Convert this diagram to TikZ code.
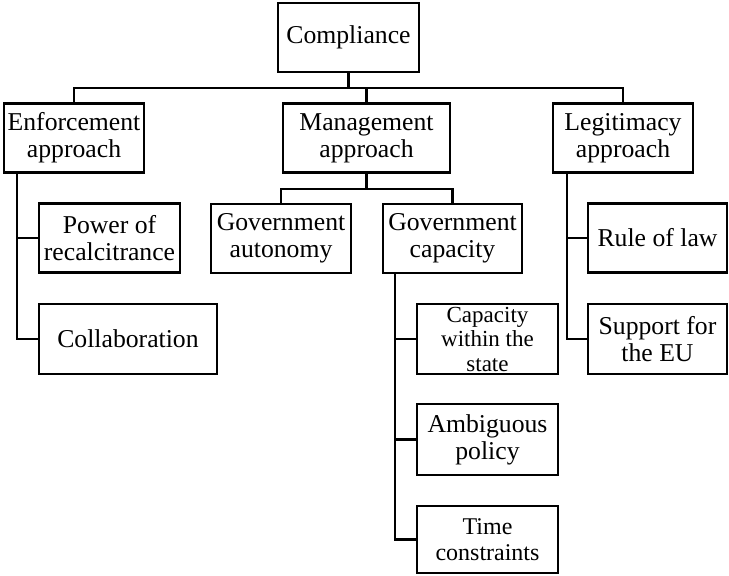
\documentclass[tikz,border=0pt]{standalone}
\usepackage{fontspec}
\setmainfont{Liberation Serif}
\begin{document}
\begin{tikzpicture}[x=1pt,y=-1pt,
  box/.style={draw, line width=2.6pt, align=center, inner sep=0pt, minimum width=140pt, minimum height=69pt,
    font=\fontsize{25.7}{27}\selectfont},
  conn/.style={line width=2.6pt}]
\useasboundingbox (0,0) rectangle (729,576);
\node[box, minimum width=141pt] (comp) at (348.5,37.5) {Compliance};
\node[box] (enf) at (74,138) {Enforcement\\approach};
\node[box, minimum width=167pt] (man) at (366.5,138) {Management\\approach};
\node[box] (leg) at (623,138) {Legitimacy\\approach};
\node[box, minimum width=141pt] (pow) at (109.5,238) {Power of\\recalcitrance};
\node[box, minimum width=178pt, minimum height=70pt] (col) at (128,339) {Collaboration};
\node[box] (gaut) at (281,238.5) {Government\\autonomy};
\node[box, minimum width=139pt] (gcap) at (452.5,238.5) {Government\\capacity};
\node[box, minimum width=141pt, minimum height=70pt, font=\fontsize{23}{24.5}\selectfont] (cws) at (487.5,339) {Capacity\\within the\\state};
\node[box, minimum width=141pt, minimum height=71pt] (amb) at (487.5,439.5) {Ambiguous\\policy};
\node[box, minimum width=141pt, minimum height=67pt, font=\fontsize{24}{26}\selectfont] (time) at (487.5,539.5) {Time\\constraints};
\node[box, minimum width=139pt] (rule) at (657.5,238) {Rule of law};
\node[box, minimum width=139pt, minimum height=70pt] (sup) at (657.5,339) {Support for\\the EU};
% buses
\coordinate (b1) at (0,88);
\coordinate (b2) at (0,189);
\coordinate (ve) at (17,0);
\coordinate (vc) at (395,0);
\coordinate (vl) at (567,0);
\draw[conn] (comp.south) -- (comp.south |- b1);
\draw[conn] (enf.north) -- (enf.north |- b1) -- (leg.north |- b1) -- (leg.north);
\draw[conn] (man.north) -- (man.north |- b1);
\draw[conn] (man.south) -- (man.south |- b2);
\draw[conn] (gaut.north) -- (gaut.north |- b2) -- (gcap.north |- b2) -- (gcap.north);
% enforcement branch
\draw[conn] (ve |- enf.south) |- (col.west);
\draw[conn] (ve |- pow.west) -- (pow.west);
% capacity branch
\draw[conn] (vc |- gcap.south) |- (time.west);
\draw[conn] (vc |- cws.west) -- (cws.west);
\draw[conn] (vc |- amb.west) -- (amb.west);
% legitimacy branch
\draw[conn] (vl |- leg.south) |- (sup.west);
\draw[conn] (vl |- rule.west) -- (rule.west);
\end{tikzpicture}
\end{document}
